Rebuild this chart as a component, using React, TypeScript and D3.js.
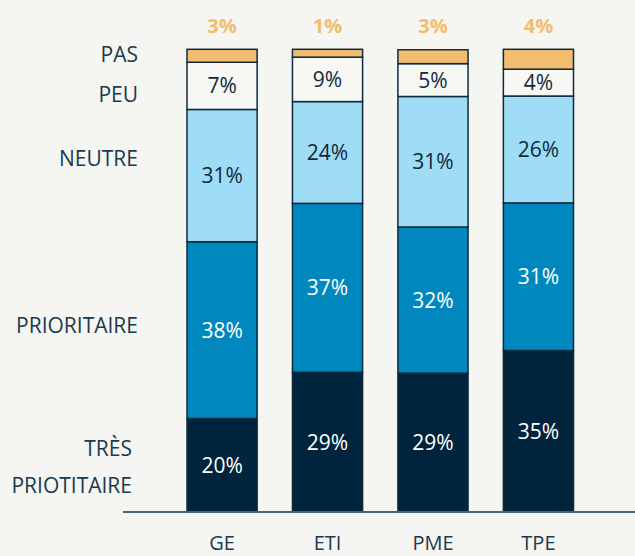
import { useEffect, useRef } from 'react'
import * as d3 from 'd3'

// categories (x axis)
const categories = ['GE', 'ETI', 'PME', 'TPE']

// stacked segments, bottom -> top, heights (% of bar)
const tresPrioritaire = [20.2, 30.2, 30.0, 34.9]
const prioritaire = [38.2, 36.5, 31.6, 31.9]
const neutre = [28.6, 22.0, 28.2, 23.1]
const peu = [10.2, 9.6, 7.1, 5.8]
const pas = [2.8, 1.7, 3.0, 4.3]

// printed labels
const tresLabels = ['20%', '29%', '29%', '35%']
const prioLabels = ['38%', '37%', '32%', '31%']
const neutreLabels = ['31%', '24%', '31%', '26%']
const peuLabels = ['7%', '9%', '5%', '4%']
const pasLabels = ['3%', '1%', '3%', '4%']

// row names on the left (top -> bottom)
const rowNames = ['PAS', 'PEU', 'NEUTRE', 'PRIORITAIRE', 'TRÈS', 'PRIOTITAIRE']

const W = 635
const H = 556
const FONT = '"Open Sans", "Noto Sans", sans-serif'

export default function App() {
  const svgRef = useRef<SVGSVGElement | null>(null)

  useEffect(() => {
    const C = {
      bg: '#f5f5f1',
      text: '#193a50',
      stroke: '#0e2b3e',
      axis: '#4b6475',
      pas: '#f2bd6f',
      peu: '#f7f7f3',
      neutre: '#9fdcf6',
      prio: '#0087be',
      tres: '#00243b',
      dark: '#11293b',
    }

    const series = [tresPrioritaire, prioritaire, neutre, peu, pas]
    const fills = [C.tres, C.prio, C.neutre, C.peu, C.pas]
    const labels = [tresLabels, prioLabels, neutreLabels, peuLabels, null]
    const labelColors = ['#ffffff', '#ffffff', C.dark, C.dark, C.dark]

    const svg = d3.select(svgRef.current)
    svg.selectAll('*').remove()
    svg.attr('width', W).attr('height', H).style('background', C.bg)

    const x = d3.scaleBand<string>().domain(categories).range([187, 573.5]).paddingInner(0.335).paddingOuter(0)
    const y = d3.scaleLinear().domain([0, 100]).range([512, 49.3])

    const rows = categories.map((c, i) => {
      const r: any = { cat: c }
      series.forEach((s, k) => { r['s' + k] = s[i] })
      return r
    })
    const stack = d3.stack<any>().keys(series.map((_, k) => 's' + k))(rows)

    stack.forEach((layer, k) => {
      const g = svg.append('g')
      layer.forEach((d, i) => {
        g.append('rect')
          .attr('x', x(categories[i])!).attr('y', y(d[1]))
          .attr('width', x.bandwidth()).attr('height', y(d[0]) - y(d[1]))
          .attr('fill', fills[k]).attr('stroke', C.stroke).attr('stroke-width', 1.5)
      })
    })

    // segment labels
    stack.forEach((layer, k) => {
      const labs = labels[k]
      if (!labs) return
      layer.forEach((d, i) => {
        svg.append('text')
          .attr('x', x(categories[i])! + x.bandwidth() / 2)
          .attr('y', (y(d[0]) + y(d[1])) / 2)
          .attr('dy', '0.36em')
          .attr('text-anchor', 'middle')
          .attr('font-family', FONT).attr('font-size', 21)
          .attr('fill', labelColors[k])
          .text(labs[i])
      })
    })

    // "pas" labels above bars
    categories.forEach((c, i) => {
      svg.append('text')
        .attr('x', x(c)! + x.bandwidth() / 2).attr('y', 32.5)
        .attr('text-anchor', 'middle')
        .attr('font-family', FONT).attr('font-size', 20).attr('font-weight', 'bold')
        .attr('fill', C.pas)
        .text(pasLabels[i])
    })

    // baseline
    svg.append('line').attr('x1', 123).attr('x2', W).attr('y1', y(0)).attr('y2', y(0))
      .attr('stroke', C.axis).attr('stroke-width', 2.2)

    // category labels
    categories.forEach(c => {
      svg.append('text')
        .attr('x', x(c)! + x.bandwidth() / 2).attr('y', 550)
        .attr('text-anchor', 'middle')
        .attr('font-family', FONT).attr('font-size', 20)
        .attr('fill', C.text)
        .text(c)
    })

    // row names on the left
    const rowX = [138, 138, 138, 138, 132, 132]
    const rowY = [61.7, 101.7, 165.7, 333, 456, 493]
    rowNames.forEach((t, i) => {
      svg.append('text').attr('x', rowX[i]).attr('y', rowY[i]).attr('text-anchor', 'end')
        .attr('font-family', FONT).attr('font-size', 21).attr('fill', C.text).text(t)
    })
  }, [])

  return (
    <div style={{ position: 'absolute', left: 0, top: 0 }}>
      <svg ref={svgRef} style={{ display: 'block' }} />
    </div>
  )
}
